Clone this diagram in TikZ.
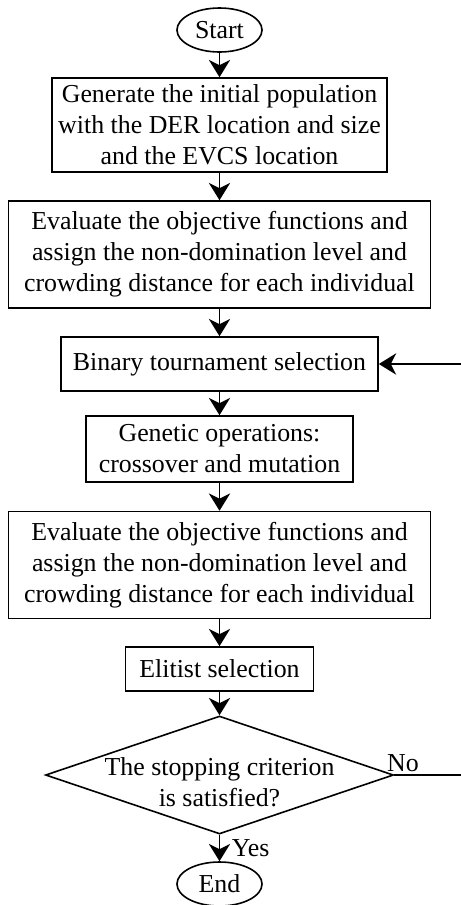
\documentclass[tikz,border=0pt]{standalone}
\usepackage{fontspec}
\setmainfont{Liberation Serif}
\usetikzlibrary{shapes.geometric,arrows.meta}

\begin{document}
\begin{tikzpicture}[x=0.375pt,y=-0.375pt,
  every node/.style={font=\fontsize{9.7}{11.6}\selectfont},
  proc/.style={draw, line width=0.6pt, align=center, inner sep=0pt},
  term/.style={draw, ellipse, line width=0.6pt, inner sep=0pt, minimum width=31.9pt, minimum height=16.5pt},
  decis/.style={draw, diamond, line width=0.6pt, inner sep=0pt, minimum width=130.5pt, minimum height=44.25pt},
  flow/.style={line width=0.6pt, -{Stealth[length=6.5pt,width=8pt,inset=2pt]}}]
\useasboundingbox (0,0) rectangle (460,905);

\node[term] (start) at (219.5,30) {Start};
\node[proc, minimum width=125.6pt, minimum height=35.25pt] (init) at (219.5,125) {Generate the initial population\\with the DER location and size\\and the EVCS location};
\node[proc, minimum width=158.25pt, minimum height=40.1pt] (eval1) at (219.5,254.5) {Evaluate the objective functions and\\assign the non-domination level and\\crowding distance for each individual};
\node[proc, minimum width=118.9pt, minimum height=20.25pt] (tour) at (219.5,364) {Binary tournament selection};
\node[proc, minimum width=100.1pt, minimum height=24.75pt] (genop) at (219.5,449) {Genetic operations:\\crossover and mutation};
\node[proc, minimum width=158.25pt, minimum height=40.1pt] (eval2) at (219.5,565) {Evaluate the objective functions and\\assign the non-domination level and\\crowding distance for each individual};
\node[proc, minimum width=70.5pt, minimum height=16.5pt] (elit) at (219.5,669) {Elitist selection};
\node[decis] (stop) at (219.5,775) {};
\node[align=center] (stoptxt) at (219.5,782) {The stopping criterion\\is satisfied?};
\node[term] (end) at (219.5,884) {End};
\coordinate (back) at (466,0);

\draw[flow] (start) -- (init);
\draw[flow] (init) -- (eval1);
\draw[flow] (eval1) -- (tour);
\draw[flow] (tour) -- (genop);
\draw[flow] (genop) -- (eval2);
\draw[flow] (eval2) -- (elit);
\draw[flow] (elit) -- (stop);
\draw[flow] (stop) -- node[right, xshift=1pt]{Yes} (end);
\draw[flow] (stop.east) node[above right, xshift=-4pt, inner sep=1pt]{No} -- (back |- stop.east) -- (back |- tour.east) -- (tour.east);
\end{tikzpicture}
\end{document}
